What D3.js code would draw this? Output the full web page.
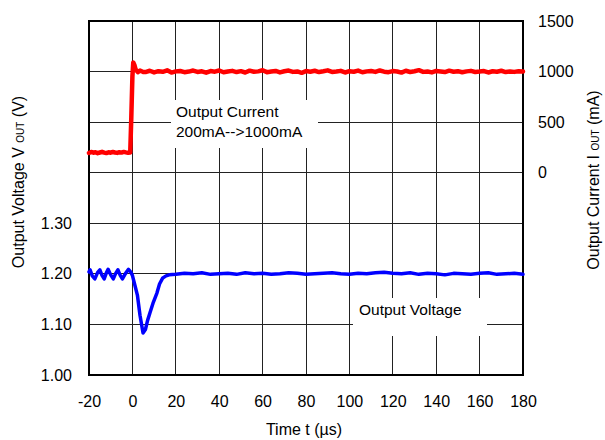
<!DOCTYPE html>
<html>
<head>
<meta charset="utf-8">
<script src="https://cdn.jsdelivr.net/npm/d3@7"></script>
<style>
  body { margin: 0; background: #fff; }
  svg { display: block; font-family: "Liberation Sans", Arial, sans-serif; }
</style>
</head>
<body>
<svg></svg>
<script>
var width = 605;
var height = 440;
var svg = d3.select("svg").attr("width", width).attr("height", height);

var margin = {top: 21, right: 82, bottom: 65, left: 89};
var plotW = width - margin.left - margin.right,
    plotH = height - margin.top - margin.bottom;

// tick labels
var timeTicks = [-20, 0, 20, 40, 60, 80, 100, 120, 140, 160, 180];
var voltTicks = [1.00, 1.10, 1.20, 1.30];
var voltGrid = [1.0, 1.1, 1.2, 1.3, 1.4, 1.5, 1.6, 1.7];
var currTicks = [0, 500, 1000, 1500];

// output current (mA) before the step, t = -20 .. -1 every 1 us
var currentPreMA = [195, 205, 198, 203, 193, 200, 207, 199, 194, 202,
                    198, 205, 200, 196, 203, 199, 206, 201, 197, 200];
// current step
var stepT  = [-0.5, 0, 0.4, 1, 1.5, 2.5, 3.5, 5];
var stepMA = [550, 950, 1090, 1060, 1020, 995, 1010, 996];
// steady current, t = 6 .. 180 every 2 us
var currentSteadyMA = [
  995, 1008, 992, 1004, 998, 1012, 990, 1002, 1006, 994,
  1000, 1010, 996, 1003, 989, 1005, 999, 1011, 993, 1001,
  1007, 995, 1004, 991, 1009, 998, 1002, 1013, 994, 1000,
  1006, 992, 1003, 1010, 997, 1001, 988, 1005, 999, 1008,
  995, 1003, 1012, 996, 1000, 1007, 991, 1004, 998, 1010,
  993, 1002, 1006, 997, 1011, 999, 994, 1005, 1001, 990,
  1008, 996, 1003, 1014, 997, 1000, 992, 1006, 1001, 995,
  1009, 998, 1004, 993, 1002, 1007, 996, 1000, 1005, 991,
  1003, 998, 1008, 995, 1001, 997, 1004, 1000];

// output voltage transient
var voltT = [-20, -19.5, -18.5, -17.3, -16, -15, -14, -13, -12, -11.2,
             -10, -8.8, -7.7, -6.7, -5.6, -4.6, -3.3, -1.8, -0.8, 0,
             1, 2.3, 3.5, 4.9, 6, 7, 8.1, 9.5, 11.3, 12.5, 14, 15.5, 17];
var voltV = [1.204, 1.208, 1.196, 1.190, 1.203, 1.208, 1.197, 1.190, 1.202, 1.209,
             1.198, 1.190, 1.201, 1.208, 1.197, 1.190, 1.200, 1.209, 1.204, 1.197,
             1.180, 1.158, 1.118, 1.083, 1.090, 1.108, 1.123, 1.142, 1.162, 1.180, 1.192, 1.196, 1.198];
// steady voltage, t = 20 .. 180 every 4 us
var voltSteadyV = [1.199, 1.201, 1.200, 1.202, 1.199, 1.200, 1.201, 1.199, 1.202, 1.200,
                   1.201, 1.199, 1.200, 1.202, 1.201, 1.199, 1.200, 1.201, 1.202, 1.200,
                   1.199, 1.201, 1.200, 1.202, 1.203, 1.201, 1.200, 1.202, 1.199, 1.201,
                   1.200, 1.198, 1.201, 1.200, 1.199, 1.201, 1.202, 1.199, 1.200, 1.201, 1.199];

// scales
var xScale = d3.scaleLinear().domain([-20, 180]).range([margin.left, margin.left + plotW]);
var yV = d3.scaleLinear().domain([1.0, 1.7]).range([margin.top + plotH, margin.top]);
var yI = d3.scaleLinear().domain([-2000, 1500]).range([margin.top + plotH, margin.top]);

// series
var currentPts = [];
currentPreMA.forEach(function(v, i) { currentPts.push([-20 + i, v]); });
stepT.forEach(function(t, i) { currentPts.push([t, stepMA[i]]); });
currentSteadyMA.forEach(function(v, i) { currentPts.push([6 + 2 * i, v]); });

var voltPts = [];
voltT.forEach(function(t, i) { voltPts.push([t, voltV[i]]); });
voltSteadyV.forEach(function(v, i) { voltPts.push([20 + 4 * i, v]); });

// grid
var grid = svg.append("g").attr("stroke", "#222").attr("stroke-width", 1).attr("shape-rendering", "crispEdges");
grid.selectAll(".gx").data(timeTicks).enter().append("line")
    .attr("x1", function(d) { return xScale(d); })
    .attr("x2", function(d) { return xScale(d); })
    .attr("y1", margin.top).attr("y2", margin.top + plotH);
grid.selectAll(".gy").data(voltGrid).enter().append("line")
    .attr("y1", function(d) { return yV(d); })
    .attr("y2", function(d) { return yV(d); })
    .attr("x1", margin.left).attr("x2", margin.left + plotW);

// label boxes cover the grid
svg.append("rect").attr("x", 171).attr("y", 100).attr("width", 147).attr("height", 48).attr("fill", "#fff");
svg.append("rect").attr("x", 353).attr("y", 298).attr("width", 134).attr("height", 38).attr("fill", "#fff");

// frame
svg.append("rect")
    .attr("x", margin.left).attr("y", margin.top)
    .attr("width", plotW).attr("height", plotH)
    .attr("fill", "none").attr("stroke", "#000").attr("stroke-width", 2);

// traces
svg.append("path")
    .datum(currentPts)
    .attr("d", d3.line().x(function(d) { return xScale(d[0]); }).y(function(d) { return yI(d[1]); }))
    .attr("fill", "none").attr("stroke", "#ff0000").attr("stroke-width", 4.5)
    .attr("stroke-linejoin", "round").attr("stroke-linecap", "round");
svg.append("path")
    .datum(voltPts)
    .attr("d", d3.line().x(function(d) { return xScale(d[0]); }).y(function(d) { return yV(d[1]); }))
    .attr("fill", "none").attr("stroke", "#0000ff").attr("stroke-width", 3.5)
    .attr("stroke-linejoin", "round").attr("stroke-linecap", "round");

// axes
function styleAxis(g) {
  g.select(".domain").remove();
  g.selectAll("text").attr("font-size", 16).attr("fill", "#000")
    .attr("font-family", "Liberation Sans, Arial, sans-serif");
}
var plain = function(d) { return String(d); };
svg.append("g")
    .attr("transform", "translate(0," + (margin.top + plotH) + ")")
    .call(d3.axisBottom(xScale).tickValues(timeTicks).tickFormat(plain).tickSize(0).tickPadding(21))
    .call(styleAxis);
svg.append("g")
    .attr("transform", "translate(" + margin.left + ",0)")
    .call(d3.axisLeft(yV).tickValues(voltTicks).tickFormat(function(d) { return d.toFixed(2); }).tickSize(0).tickPadding(17))
    .call(styleAxis);
svg.append("g")
    .attr("transform", "translate(" + (margin.left + plotW) + ",0)")
    .call(d3.axisRight(yI).tickValues(currTicks).tickFormat(plain).tickSize(0).tickPadding(15))
    .call(styleAxis);

// annotations
var ann = svg.append("g").attr("font-size", 15.5).attr("fill", "#000");
ann.append("text").attr("x", 176).attr("y", 117).text("Output Current");
ann.append("text").attr("x", 176).attr("y", 137).text("200mA-->1000mA");
ann.append("text").attr("x", 359).attr("y", 315).text("Output Voltage");

// axis titles
var lt = svg.append("text").attr("font-size", 16).attr("text-anchor", "middle")
    .attr("transform", "translate(24,182) rotate(-90)");
lt.append("tspan").text("Output Voltage V ");
lt.append("tspan").attr("font-size", 10).text("OUT");
lt.append("tspan").text(" (V)");

var rt = svg.append("text").attr("font-size", 16).attr("text-anchor", "middle")
    .attr("transform", "translate(599,180) rotate(-90)");
rt.append("tspan").text("Output Current I ");
rt.append("tspan").attr("font-size", 10).text("OUT");
rt.append("tspan").text(" (mA)");

svg.append("text").attr("font-size", 16).attr("text-anchor", "middle")
    .attr("x", 304).attr("y", 435).text("Time t (\u00b5s)");
</script>
</body>
</html>
